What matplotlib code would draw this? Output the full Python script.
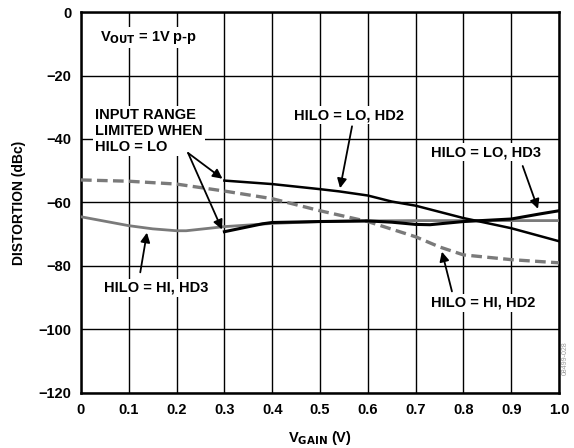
import matplotlib
matplotlib.use('Agg')
import matplotlib.pyplot as plt

plt.rcParams['font.family'] = ['Liberation Sans', 'DejaVu Sans']
plt.rcParams['font.weight'] = 'bold'

# HILO = HI, HD2 (серая пунктирная)
hi_hd2_x = [0.0, 0.1, 0.2, 0.3, 0.4, 0.5, 0.6, 0.7, 0.75, 0.8, 0.9, 1.0]
hi_hd2_y = [-52.9, -53.3, -54.2, -56.4, -58.8, -62.6, -66.0, -70.8, -74.0, -76.5, -78.0, -79.0]

# HILO = HI, HD3 (серая сплошная)
hi_hd3_x = [0.0, 0.1, 0.15, 0.2, 0.22, 0.3, 0.4, 0.5, 0.6, 0.7, 0.8, 0.9, 1.0]
hi_hd3_y = [-64.5, -67.3, -68.3, -68.9, -68.9, -67.6, -66.6, -66.0, -65.8, -65.7, -65.7, -65.7, -65.7]

# HILO = LO, HD2 (черная)
lo_hd2_x = [0.3, 0.4, 0.5, 0.54, 0.6, 0.65, 0.7, 0.8, 0.9, 1.0]
lo_hd2_y = [-53.1, -54.2, -55.8, -56.5, -57.8, -59.7, -61.0, -64.9, -68.1, -72.2]

# HILO = LO, HD3 (черная)
lo_hd3_x = [0.3, 0.38, 0.4, 0.5, 0.6, 0.65, 0.7, 0.73, 0.8, 0.9, 0.96, 1.0]
lo_hd3_y = [-69.2, -66.7, -66.3, -66.0, -65.8, -66.2, -66.9, -67.0, -66.0, -65.2, -63.6, -62.6]

xticks = [0, 0.1, 0.2, 0.3, 0.4, 0.5, 0.6, 0.7, 0.8, 0.9, 1.0]
xtick_labels = ['0', '0.1', '0.2', '0.3', '0.4', '0.5', '0.6', '0.7', '0.8', '0.9', '1.0']
yticks = [-120, -100, -80, -60, -40, -20, 0]
ytick_labels = ['\u2212120', '\u2212100', '\u221280', '\u221260', '\u221240', '\u221220', '0']

fig = plt.figure(figsize=(5.74, 4.48), dpi=100)
ax = fig.add_axes([0.1411, 0.1228, 0.8328, 0.8504])

gray = '#7a7a7a'
ax.plot(hi_hd2_x, hi_hd2_y, color=gray, lw=2.4, ls=(0, (3.2, 1.6)), zorder=3)
ax.plot(hi_hd3_x, hi_hd3_y, color=gray, lw=2.0, zorder=3)
ax.plot(lo_hd2_x, lo_hd2_y, color='black', lw=1.8, zorder=4)
ax.plot(lo_hd3_x, lo_hd3_y, color='black', lw=2.2, zorder=4)

ax.set_xlim(0, 1.0)
ax.set_ylim(-120, 0)
ax.set_xticks(xticks)
ax.set_xticklabels(xtick_labels)
ax.set_yticks(yticks)
ax.set_yticklabels(ytick_labels)
ax.tick_params(length=0, labelsize=10.5, pad=7)
for t in ax.get_xticklabels() + ax.get_yticklabels():
    t.set_fontweight('bold')
ax.grid(True, color='black', lw=1.0, zorder=1)
ax.set_axisbelow(True)
for s in ax.spines.values():
    s.set_linewidth(1.8)

ax.set_xlabel('V$_{\\mathbf{GAIN}}$ (V)', fontsize=10.5, fontweight='bold', labelpad=9)
ax.set_ylabel('DISTORTION (dBc)', fontsize=10, fontweight='bold', labelpad=9)

box = dict(facecolor='white', edgecolor='none', pad=1.5)
tk = dict(fontsize=10.5, fontweight='bold', zorder=6)
arr = dict(arrowstyle='-|>', color='black', lw=1.3, mutation_scale=14, shrinkA=0, shrinkB=0)

ax.text(0.04, -8, 'V$_{\\mathbf{OUT}}$ = 1V p-p', ha='left', va='center', bbox=box, **tk)

ax.text(0.03, -37.5, 'INPUT RANGE\nLIMITED WHEN\nHILO = LO', ha='left', va='center',
        linespacing=1.15, bbox=box, **tk)
ax.annotate('', xy=(0.296, -52.5), xytext=(0.224, -44.4), arrowprops=arr, zorder=6)
ax.annotate('', xy=(0.295, -68.5), xytext=(0.224, -44.4), arrowprops=arr, zorder=6)

ax.text(0.56, -32.5, 'HILO = LO, HD2', ha='center', va='center', bbox=box, **tk)
ax.annotate('', xy=(0.542, -55.5), xytext=(0.567, -36.0), arrowprops=arr, zorder=6)

ax.text(0.848, -44.2, 'HILO = LO, HD3', ha='center', va='center', bbox=box, **tk)
ax.annotate('', xy=(0.956, -62.0), xytext=(0.924, -48.5), arrowprops=arr, zorder=6)

ax.text(0.157, -86.8, 'HILO = HI, HD3', ha='center', va='center', bbox=box, **tk)
ax.annotate('', xy=(0.138, -69.5), xytext=(0.124, -82.0), arrowprops=arr, zorder=6)

ax.text(0.841, -91.6, 'HILO = HI, HD2', ha='center', va='center', bbox=box, **tk)
ax.annotate('', xy=(0.755, -75.5), xytext=(0.776, -88.0), arrowprops=arr, zorder=6)

fig.text(0.985, 0.2, '08499-028', rotation=90, ha='center', va='center',
         fontsize=5, color='#999999', fontweight='normal')

fig.savefig('out.png', dpi=100)
